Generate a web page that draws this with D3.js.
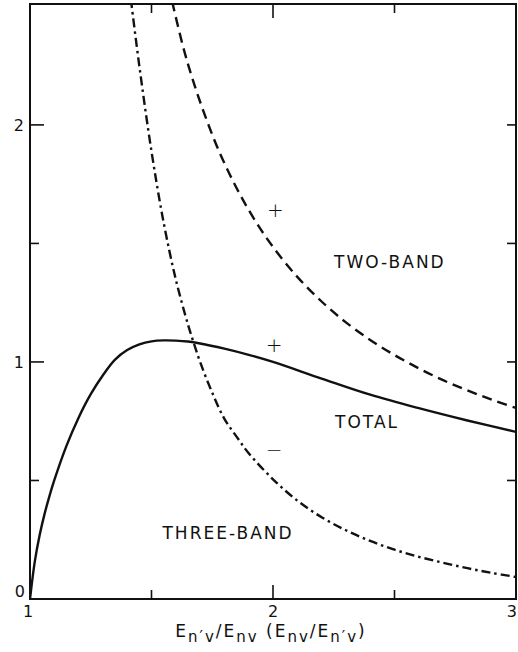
<!DOCTYPE html>
<html>
<head>
<meta charset="utf-8">
<script src="https://cdn.jsdelivr.net/npm/d3@7"></script>
<style>
  body { margin: 0; background: #fff; }
  svg { display: block; }
  text { font-family: "DejaVu Sans", sans-serif; fill: #111; }
</style>
</head>
<body>
<svg id="chart" width="518" height="652"></svg>
<script>
// --- Data ---
const totalX = [1.0, 1.02, 1.04, 1.06, 1.08, 1.10, 1.15, 1.20, 1.25, 1.30, 1.35, 1.40, 1.45, 1.50, 1.55, 1.60, 1.65, 1.70, 1.80, 1.90, 2.0, 2.2, 2.4, 2.6, 2.8, 3.0];
const totalY = [0.0, 0.16, 0.271, 0.359, 0.434, 0.501, 0.646, 0.765, 0.864, 0.944, 1.01, 1.05, 1.074, 1.087, 1.091, 1.09, 1.086, 1.078, 1.056, 1.03, 1.0, 0.93, 0.862, 0.805, 0.753, 0.705];

const twoBandX = [1.585, 1.63, 1.67, 1.72, 1.78, 1.85, 1.92, 2.0, 2.1, 2.2, 2.3, 2.4, 2.5, 2.6, 2.7, 2.8, 2.9, 3.0];
const twoBandY = [2.52, 2.33, 2.19, 2.04, 1.884, 1.734, 1.607, 1.485, 1.359, 1.255, 1.167, 1.093, 1.029, 0.973, 0.923, 0.880, 0.841, 0.806];

const threeBandX = [1.415, 1.45, 1.50, 1.55, 1.60, 1.65, 1.671, 1.70, 1.75, 1.80, 1.85, 1.90, 2.0, 2.1, 2.2, 2.3, 2.4, 2.5, 2.6, 2.7, 2.8, 2.9, 3.0];
const threeBandY = [2.53, 2.248, 1.888, 1.588, 1.348, 1.158, 1.089, 1.0, 0.87, 0.76, 0.685, 0.615, 0.505, 0.415, 0.345, 0.29, 0.245, 0.208, 0.178, 0.153, 0.13, 0.11, 0.093];

const xMajor = [1, 2, 3];
const xMinor = [1.5, 2.5];
const yMajor = [0, 1, 2];
const yMinor = [0.5, 1.5];

const curveLabels = [
  { text: "TWO-BAND", x: 2.481, y: 1.397 },
  { text: "TOTAL", x: 2.387, y: 0.722 },
  { text: "THREE-BAND", x: 1.815, y: 0.253 }
];
const signs = [
  { text: "+", x: 2.01, y: 1.64 },
  { text: "+", x: 2.005, y: 1.07 },
  { text: "\u2212", x: 2.005, y: 0.63 }
];

// --- Layout ---
const svg = d3.select("#chart");
const x = d3.scaleLinear().domain([1, 3]).range([30, 516]);
const y = d3.scaleLinear().domain([0, 2.51]).range([599, 4]);

svg.append("defs").append("clipPath").attr("id", "plot-clip")
  .append("rect")
  .attr("x", x(1)).attr("y", y(2.51))
  .attr("width", x(3) - x(1)).attr("height", y(0) - y(2.51));

// frame
svg.append("rect")
  .attr("x", x(1)).attr("y", y(2.51))
  .attr("width", x(3) - x(1)).attr("height", y(0) - y(2.51))
  .style("fill", "none").style("stroke", "#111").style("stroke-width", 2);

// ticks, all pointing inward
const ticks = svg.append("g").style("stroke", "#111").style("stroke-width", 1.6);
function tickLen(major) { return major ? 14 : 9; }
xMajor.concat(xMinor).forEach(v => {
  if (v === 1 || v === 3) return;
  const L = tickLen(xMajor.includes(v));
  ticks.append("line").attr("x1", x(v)).attr("x2", x(v)).attr("y1", y(0)).attr("y2", y(0) - L);
  ticks.append("line").attr("x1", x(v)).attr("x2", x(v)).attr("y1", y(2.51)).attr("y2", y(2.51) + L);
});
yMajor.concat(yMinor).forEach(v => {
  if (v === 0) return;
  const L = tickLen(yMajor.includes(v));
  ticks.append("line").attr("x1", x(1)).attr("x2", x(1) + L).attr("y1", y(v)).attr("y2", y(v));
  ticks.append("line").attr("x1", x(3)).attr("x2", x(3) - 9).attr("y1", y(v)).attr("y2", y(v));
});

// tick labels
svg.append("g").selectAll("text")
  .data(yMajor)
  .join("text")
  .attr("x", d => d === 0 ? 25 : 24)
  .attr("y", d => d === 0 ? y(d) - 2 : y(d) + 6)
  .attr("text-anchor", "end")
  .style("font-size", "16px")
  .text(d => d);

svg.append("g").selectAll("text")
  .data(xMajor)
  .join("text")
  .attr("x", d => d === 3 ? 517 : x(d) - (d === 1 ? 2 : 0))
  .attr("y", 617)
  .attr("text-anchor", d => d === 3 ? "end" : "middle")
  .style("font-size", "16px")
  .text(d => d);

// curves
const line = d3.line().x(d => x(d[0])).y(d => y(d[1])).curve(d3.curveCatmullRom.alpha(0.5));
const curves = svg.append("g").attr("clip-path", "url(#plot-clip)")
  .style("fill", "none").style("stroke", "#111").style("stroke-width", 2.4);

curves.append("path")
  .attr("d", line(d3.zip(totalX, totalY)));
curves.append("path")
  .attr("d", line(d3.zip(twoBandX, twoBandY)))
  .style("stroke-dasharray", "10,6");
curves.append("path")
  .attr("d", line(d3.zip(threeBandX, threeBandY)))
  .style("stroke-dasharray", "9,4,2.5,4");

// curve labels
svg.append("g").selectAll("text")
  .data(curveLabels)
  .join("text")
  .attr("x", d => x(d.x))
  .attr("y", d => y(d.y))
  .attr("text-anchor", "middle")
  .style("font-size", "17px")
  .style("letter-spacing", "2px")
  .text(d => d.text);

svg.append("g").selectAll("text")
  .data(signs)
  .join("text")
  .attr("x", d => x(d.x))
  .attr("y", d => y(d.y))
  .attr("dy", "0.35em")
  .attr("text-anchor", "middle")
  .style("font-size", "20px")
  .style("font-weight", "300")
  .text(d => d.text);

// axis title: E_n'v / E_nv (E_nv / E_n'v)
const title = svg.append("text")
  .attr("x", 271).attr("y", 637)
  .attr("text-anchor", "middle")
  .style("font-size", "17px")
  .style("letter-spacing", "2px");
const parts = [
  ["E", 0], ["n\u2032v", 1], ["/E", 0], ["nv", 1], [" (E", 0], ["nv", 1], ["/E", 0], ["n\u2032v", 1], [")", 0]
];
parts.forEach(p => {
  title.append("tspan")
    .attr("baseline-shift", p[1] ? "-30%" : "0%")
    .style("font-size", p[1] ? "15px" : "17px")
    .text(p[0]);
});
</script>
</body>
</html>
